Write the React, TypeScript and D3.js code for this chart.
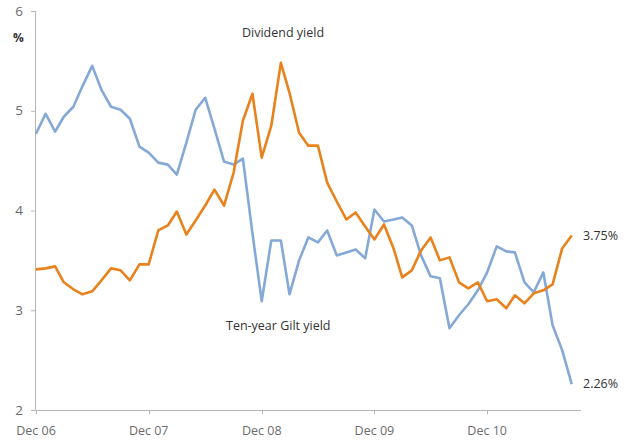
import React from "react";
import * as d3 from "d3";

// Monthly observations, Dec 2006 – Sep 2011
const startMonth = new Date(2006, 11, 1);
const endMonth = new Date(2011, 9, 1);

const giltYield = [
  4.77, 4.97, 4.79, 4.94, 5.04, 5.25, 5.45, 5.21, 5.04, 5.01, 4.92, 4.64,
  4.58, 4.48, 4.46, 4.36, 4.68, 5.01, 5.13, 4.82, 4.49, 4.46, 4.52, 3.77,
  3.09, 3.70, 3.70, 3.16, 3.50, 3.73, 3.68, 3.80, 3.55, 3.58, 3.61, 3.52,
  4.01, 3.89, 3.91, 3.93, 3.85, 3.55, 3.34, 3.32, 2.82, 2.95, 3.06, 3.20,
  3.38, 3.64, 3.59, 3.58, 3.28, 3.18, 3.38, 2.85, 2.60, 2.26,
];

const dividendYield = [
  3.41, 3.42, 3.44, 3.28, 3.21, 3.16, 3.19, 3.30, 3.42, 3.40, 3.30, 3.46,
  3.46, 3.80, 3.85, 3.99, 3.76, 3.90, 4.05, 4.21, 4.05, 4.38, 4.90, 5.17,
  4.53, 4.85, 5.48, 5.18, 4.78, 4.65, 4.65, 4.28, 4.09, 3.91, 3.98, 3.84,
  3.71, 3.86, 3.62, 3.33, 3.40, 3.60, 3.73, 3.50, 3.53, 3.28, 3.22, 3.28,
  3.09, 3.11, 3.02, 3.15, 3.07, 3.17, 3.20, 3.26, 3.62, 3.75,
];

const yTicks = [2, 3, 4, 5, 6];
const xTickLabels = ["Dec 06", "Dec 07", "Dec 08", "Dec 09", "Dec 10"];
const xTickDates = [
  new Date(2006, 11, 1),
  new Date(2007, 11, 1),
  new Date(2008, 11, 1),
  new Date(2009, 11, 1),
  new Date(2010, 11, 1),
];

const W = 633;
const H = 441;
const FONT = "'Open Sans', 'DejaVu Sans', sans-serif";
const ORANGE = "#E8821C";
const BLUE = "#85A9D6";
const AXIS = "#B5B5B5";

export default function App() {
  const months = d3.timeMonth.range(startMonth, d3.timeMonth.offset(endMonth, 1));
  const x = d3.scaleTime().domain([startMonth, endMonth]).range([36, 581]);
  const y = d3.scaleLinear().domain([2, 6]).range([410, 11]);

  const line = d3
    .line<number>()
    .x((_, i) => x(months[i]))
    .y((d) => y(d));

  const lastI = giltYield.length - 1;

  return (
    <svg
      width={W}
      height={H}
      style={{ position: "absolute", left: 0, top: 0, background: "#fff" }}
      fontFamily={FONT}
    >
      {/* y axis */}
      <line x1={35.5} x2={35.5} y1={y(6)} y2={y(2)} stroke={AXIS} strokeWidth={1} />
      {yTicks.map((t) => (
        <g key={t}>
          <line x1={31} x2={35.5} y1={y(t) + 0.5} y2={y(t) + 0.5} stroke={AXIS} />
          <text
            x={23}
            y={y(t)}
            dy="0.35em"
            textAnchor="end"
            fontSize={13.5}
            fill="#6b6b6b"
          >
            {t}
          </text>
        </g>
      ))}
      {/* x axis */}
      <line x1={35.5} x2={581} y1={y(2) + 0.5} y2={y(2) + 0.5} stroke={AXIS} />
      {xTickDates.map((d, i) => (
        <g key={i}>
          <line
            x1={Math.round(x(d)) + 0.5}
            x2={Math.round(x(d)) + 0.5}
            y1={y(2)}
            y2={y(2) + 4}
            stroke={AXIS}
          />
          <text
            x={x(d)}
            y={431}
            dy="0.35em"
            textAnchor="middle"
            fontSize={12.5}
            fill="#6b6b6b"
          >
            {xTickLabels[i]}
          </text>
        </g>
      ))}
      <text x={13} y={42} fontSize={12} fontWeight="bold" fill="#333">
        %
      </text>

      {/* series */}
      <path d={line(giltYield) || ""} fill="none" stroke={BLUE} strokeWidth={2.6} strokeLinejoin="round" />
      <path d={line(dividendYield) || ""} fill="none" stroke={ORANGE} strokeWidth={2.6} strokeLinejoin="round" />

      {/* labels */}
      <text x={242} y={37} fontSize={12.5} fill="#333">
        Dividend yield
      </text>
      <text x={226} y={330} fontSize={12.5} fill="#333">
        Ten-year Gilt yield
      </text>
      <text x={583} y={y(dividendYield[lastI])} dy="0.35em" fontSize={12.5} fill="#333">
        {dividendYield[lastI].toFixed(2)}%
      </text>
      <text x={583} y={y(giltYield[lastI])} dy="0.35em" fontSize={12.5} fill="#333">
        {giltYield[lastI].toFixed(2)}%
      </text>
    </svg>
  );
}
